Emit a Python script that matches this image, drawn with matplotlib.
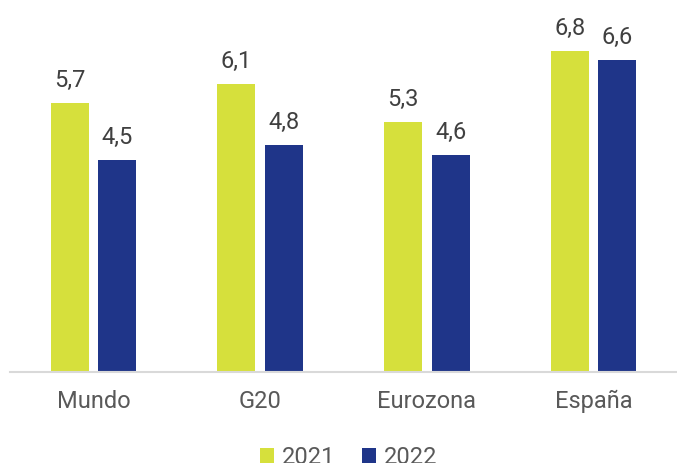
import numpy as np
import matplotlib.pyplot as plt

categories = ['Mundo', 'G20', 'Eurozona', 'España']
v2021 = [5.7, 6.1, 5.3, 6.8]
v2022 = [4.5, 4.8, 4.6, 6.6]

plt.rcParams['font.family'] = ['Roboto', 'DejaVu Sans']

fig = plt.figure(figsize=(6.77, 4.63), dpi=100)
ax = fig.add_axes([10 / 677, 91 / 463, 667 / 677, 354 / 463])

x = np.arange(len(categories))
w = 0.228
off = 0.1425
b1 = ax.bar(x - off, v2021, w, color='#d6e03c', label='2021')
b2 = ax.bar(x + off, v2022, w, color='#1f3589', label='2022')

for bars, vals in ((b1, v2021), (b2, v2022)):
    for b, v in zip(bars, vals):
        ax.annotate(f'{v:.1f}'.replace('.', ','),
                    (b.get_x() + b.get_width() / 2, v),
                    xytext=(0, 8), textcoords='offset points',
                    ha='center', va='bottom', fontsize=17, color='#404040')

ax.set_xlim(-0.5, 3.5)
ax.set_ylim(0, 7.5)
ax.set_xticks(x)
ax.set_xticklabels(categories, fontsize=17, color='#595959')
ax.tick_params(axis='x', length=0, pad=13)
ax.set_yticks([])
for s in ['top', 'right', 'left']:
    ax.spines[s].set_visible(False)
ax.spines['bottom'].set_color('#d9d9d9')
ax.spines['bottom'].set_linewidth(1.5)

fig.legend(handles=[b1, b2], loc='lower center', bbox_to_anchor=(0.515, -0.058),
           ncol=2, frameon=False, fontsize=17, handlelength=0.6, handleheight=0.6,
           handletextpad=0.35, columnspacing=1.1, labelcolor='#595959')

fig.savefig('out.png', dpi=100)
